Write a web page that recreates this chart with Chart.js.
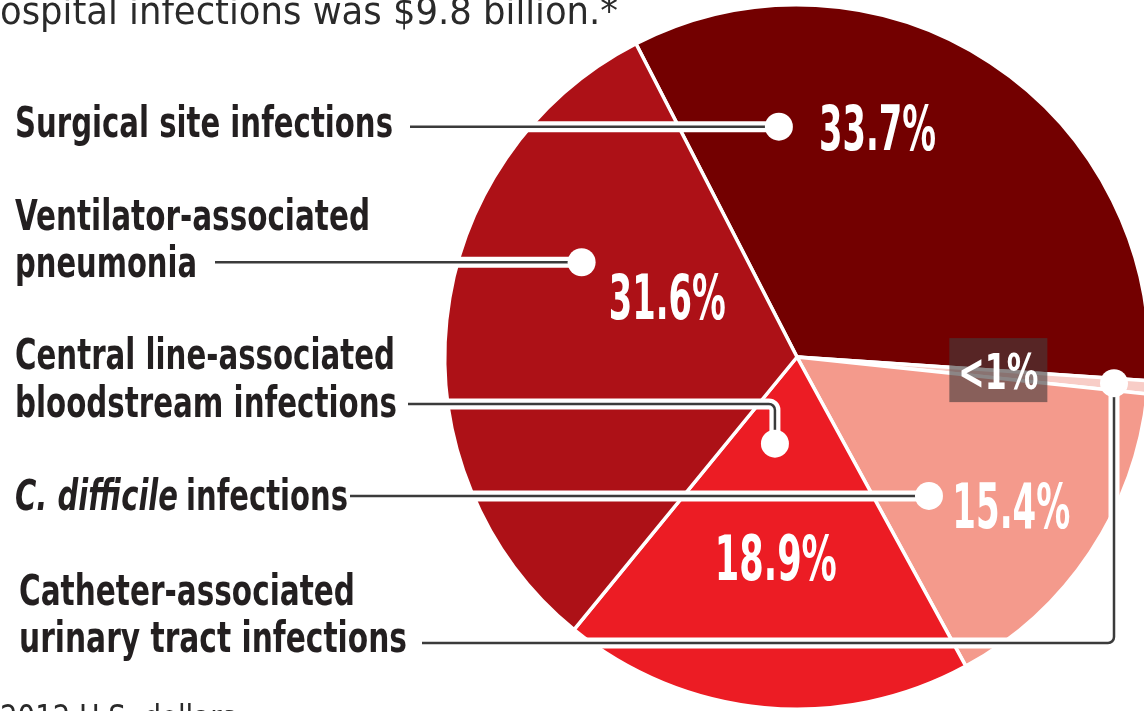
<!DOCTYPE html>
<html>
<head>
<meta charset="utf-8">
<script src="https://cdn.jsdelivr.net/npm/chart.js@4.4.1/dist/chart.umd.min.js"></script>
<style>
  html, body { margin: 0; padding: 0; background: #fff; overflow: hidden; width: 1144px; height: 711px; }
  #wrap { position: absolute; left: 0; top: 0; width: 1200px; height: 720px; }
</style>
</head>
<body>
<div id="wrap"><canvas id="pie" width="1200" height="720"></canvas></div>
<script>
// slice order goes clockwise from the top-left boundary
const categories = [
    "Surgical site infections",
    "Catheter-associated urinary tract infections",
    "C. difficile infections",
    "Central line-associated bloodstream infections",
    "Ventilator-associated pneumonia"
];
const shares = [33.7, 0.6, 15.4, 18.9, 31.6];
const shareLabels = ["33.7%", "<1%", "15.4%", "18.9%", "31.6%"];
const sliceColors = ["#730000", "#f8cdc7", "#f49a8c", "#ec1c24", "#ad1117"];

const FONT = "'Liberation Sans Narrow', 'DejaVu Sans Condensed', 'Roboto Condensed', sans-serif";
const INK = "#231f20";

// left-hand labels: text runs, leader start, dot / value placement inside the slice (t along the arc, f of radius)
const callouts = [
    { rows: [[{ s: "Surgical site infections", x: 15, w: 378 }]], base: [137],
      from: 410, lineY: null, dot: [0.1875, 0.656], pct: [0.385, 0.688], pctW: 117 },
    { rows: [[{ s: "Catheter-associated", x: 19, w: 336 }], [{ s: "urinary tract infections", x: 19, w: 388 }]], base: [605, 652],
      from: 422, lineY: 643, dot: [0.39, 0.903], pct: [0.06, 0.573], pctW: 80, box: true },
    { rows: [[{ s: "C. difficile", x: 15, w: 163, italic: true }, { s: "infections", x: 186, w: 162 }]], base: [510],
      from: 350, lineY: null, dot: [0.731, 0.544], pct: [0.52, 0.741], pctW: 118 },
    { rows: [[{ s: "Central line-associated", x: 15, w: 380 }], [{ s: "bloodstream infections", x: 15, w: 382 }]], base: [369, 417],
      from: 408, lineY: 404, dot: [0.632, 0.254], pct: [0.51, 0.575], pctW: 122 },
    { rows: [[{ s: "Ventilator-associated", x: 15, w: 355 }], [{ s: "pneumonia", x: 15, w: 182 }]], base: [230, 277],
      from: 215, lineY: null, dot: [0.656, 0.668], pct: [0.664, 0.405], pctW: 117 }
];

function fitText(ctx, text, x, y, width, font, align) {
    ctx.font = font;
    ctx.textAlign = "left";
    const m = ctx.measureText(text).width;
    ctx.save();
    ctx.translate(align === "center" ? x - width / 2 : x, y);
    ctx.scale(width / m, 1);
    ctx.fillText(text, 0, 0);
    ctx.restore();
}

function pointIn(arc, t, f) {
    const a = arc.startAngle + t * (arc.endAngle - arc.startAngle);
    const r = f * arc.outerRadius;
    return { x: arc.x + r * Math.cos(a), y: arc.y + r * Math.sin(a) };
}

const calloutPlugin = {
    id: "callouts",
    afterDraw(chart) {
        const ctx = chart.ctx;
        const arcs = chart.getDatasetMeta(0).data;
        ctx.save();
        ctx.textBaseline = "alphabetic";

        // headline tail and footnote, both cropped in the original
        ctx.fillStyle = "#2a2a2a";
        fitText(ctx, "ospital infections was $9.8 billion.*", 0, 24, 618, "38px " + FONT);
        fitText(ctx, "2012 U.S. dollars", 0, 729, 236, "34px " + FONT);

        callouts.forEach((c, i) => {
            const arc = arcs[i].getProps(["x", "y", "startAngle", "endAngle", "outerRadius"], true);
            const dot = pointIn(arc, c.dot[0], c.dot[1]);
            const ly = c.lineY == null ? dot.y : c.lineY;

            // label text
            ctx.fillStyle = INK;
            c.rows.forEach((row, k) => {
                row.forEach(run => {
                    fitText(ctx, run.s, run.x, c.base[k], run.w, (run.italic ? "italic " : "") + "bold 43px " + FONT);
                });
            });

            // leader: white halo, then dark rule
            const path = () => {
                ctx.beginPath();
                ctx.moveTo(c.from, ly);
                if (Math.abs(ly - dot.y) > 1) {
                    ctx.arcTo(dot.x, ly, dot.x, dot.y, 6);
                    ctx.lineTo(dot.x, dot.y);
                } else {
                    ctx.lineTo(dot.x, dot.y);
                }
            };
            ctx.lineJoin = "round";
            path();
            ctx.strokeStyle = "#ffffff";
            ctx.lineWidth = 11;
            ctx.stroke();
            path();
            ctx.strokeStyle = "#3b3b3b";
            ctx.lineWidth = 2.5;
            ctx.stroke();

            ctx.beginPath();
            ctx.arc(dot.x, dot.y, 14, 0, Math.PI * 2);
            ctx.fillStyle = "#ffffff";
            ctx.fill();

            // value label
            const p = pointIn(arc, c.pct[0], c.pct[1]);
            if (c.box) {
                ctx.fillStyle = "rgba(70, 60, 60, 0.62)";
                ctx.fillRect(p.x - 49, p.y - 33, 98, 64);
                ctx.fillStyle = "#ffffff";
                fitText(ctx, shareLabels[i], p.x, p.y + 18, c.pctW, "bold 50px " + FONT, "center");
            } else {
                ctx.fillStyle = "#ffffff";
                fitText(ctx, shareLabels[i], p.x, p.y + 22, c.pctW, "bold 62px " + FONT, "center");
            }
        });
        ctx.restore();
    }
};

new Chart(document.getElementById("pie"), {
    type: "pie",
    data: {
        labels: categories,
        datasets: [{
            data: shares,
            backgroundColor: sliceColors,
            borderColor: "#ffffff",
            borderWidth: 3.5
        }]
    },
    options: {
        responsive: false,
        animation: false,
        events: [],
        rotation: -27.2,
        layout: { padding: { left: 443, right: 49, top: 3, bottom: 9 } },
        plugins: {
            legend: { display: false },
            tooltip: { enabled: false }
        }
    },
    plugins: [calloutPlugin]
});
</script>
</body>
</html>
